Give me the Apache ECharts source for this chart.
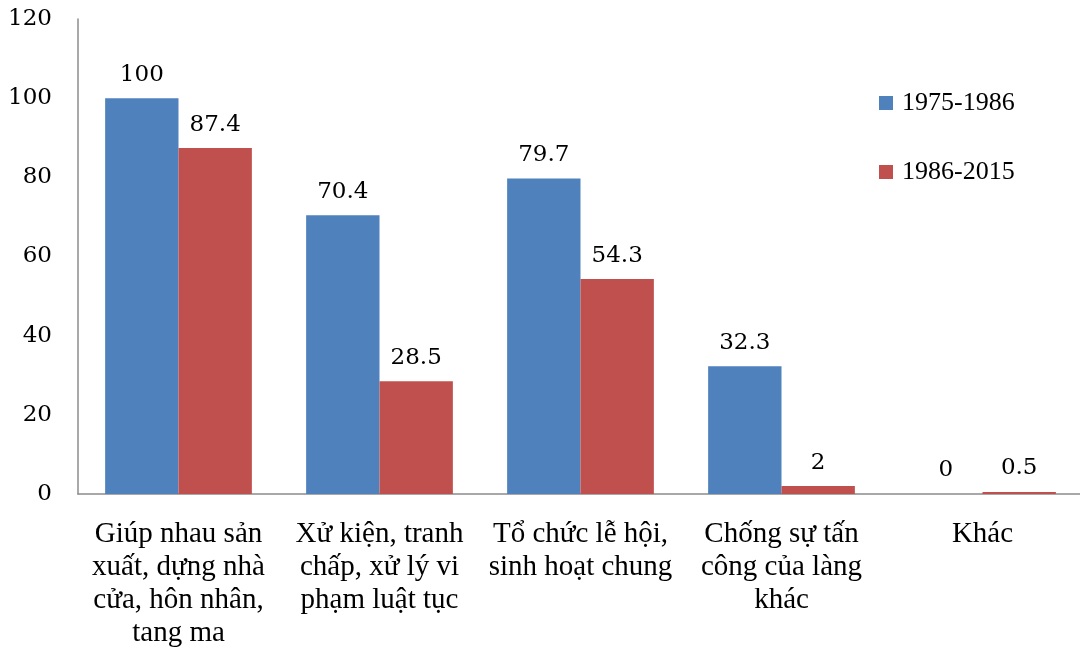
<!DOCTYPE html>
<html>
<head>
<meta charset="utf-8">
<script src="https://cdn.jsdelivr.net/npm/echarts@6/dist/echarts.min.js"></script>
<style>
  html, body { margin: 0; padding: 0; background: #fff; }
  #chart { width: 1080px; height: 648px; }
</style>
</head>
<body>
<div id="chart"></div>
<script>
// Community activities by period (%)
const categories = [
  'Giúp nhau sản\nxuất, dựng nhà\ncửa, hôn nhân,\ntang ma',
  'Xử kiện, tranh\nchấp, xử lý vi\nphạm luật tục',
  'Tổ chức lễ hội,\nsinh hoạt chung',
  'Chống sự tấn\ncông của làng\nkhác',
  'Khác'
];
const seriesNames = ['1975-1986', '1986-2015'];
const values1975 = [100, 70.4, 79.7, 32.3, 0];
const values1986 = [87.4, 28.5, 54.3, 2, 0.5];
const yTicks = { min: 0, max: 120, interval: 20 };

const serif = 'Liberation Serif';
const numFont = 'DejaVu Serif';

const labelStyle = {
  show: true,
  position: 'top',
  distance: 12,
  fontFamily: numFont,
  fontSize: 23,
  color: '#000'
};

const chart = echarts.init(document.getElementById('chart'), null, { renderer: 'canvas' });
chart.setOption({
  backgroundColor: '#fff',
  animation: false,
  grid: { left: 78, right: -3, top: 19, bottom: 154, containLabel: false, outerBoundsMode: 'none' },
  legend: {
    orient: 'vertical',
    left: 879,
    top: 90,
    padding: 0,
    itemWidth: 14,
    itemHeight: 14,
    itemGap: 43,
    icon: 'rect',
    textStyle: { fontFamily: serif, fontSize: 26, color: '#000', padding: [0, 0, 0, 4] },
    data: seriesNames
  },
  xAxis: {
    type: 'category',
    data: categories,
    axisLine: { lineStyle: { color: '#8c8c8c', width: 1.5 } },
    axisTick: { show: false },
    axisLabel: {
      interval: 0,
      margin: 24,
      fontFamily: serif,
      fontSize: 29,
      lineHeight: 33,
      color: '#000',
      align: 'center'
    }
  },
  yAxis: {
    type: 'value',
    min: yTicks.min,
    max: yTicks.max,
    interval: yTicks.interval,
    splitLine: { show: false },
    axisTick: { show: false },
    axisLine: { show: true, lineStyle: { color: '#8c8c8c', width: 1.5 } },
    axisLabel: { margin: 26, fontFamily: numFont, fontSize: 23, color: '#000' }
  },
  series: [
    {
      name: seriesNames[0],
      type: 'bar',
      data: values1975,
      barGap: '0%',
      barCategoryGap: '27%',
      itemStyle: { color: '#4F81BD' },
      label: labelStyle
    },
    {
      name: seriesNames[1],
      type: 'bar',
      data: values1986,
      barGap: '0%',
      barCategoryGap: '27%',
      itemStyle: { color: '#C0504D' },
      label: labelStyle
    }
  ]
});
</script>
</body>
</html>
